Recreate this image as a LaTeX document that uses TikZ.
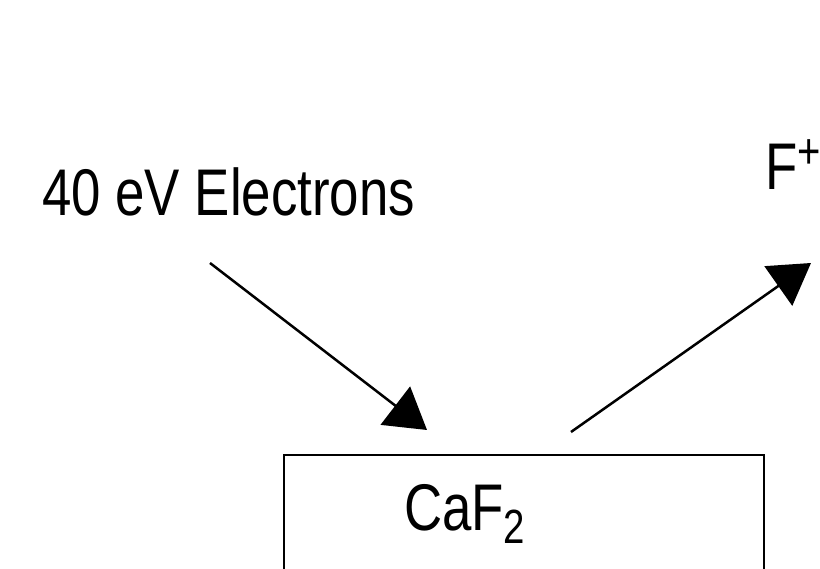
\documentclass[tikz,border=0pt]{standalone}
\usepackage{fontspec}
\newfontfamily\labelfont[FakeStretch=0.8]{Liberation Sans}
\usetikzlibrary{arrows.meta}

\newcommand{\supsmall}[1]{\raisebox{21pt}{\fontsize{50}{52}\selectfont #1}}
\newcommand{\subsmall}[1]{\raisebox{-13pt}{\fontsize{48}{50}\selectfont #1}}

\begin{document}
\begin{tikzpicture}[x=1pt,y=-1pt,inner sep=0pt,
  lbl/.style={anchor=base west,font=\labelfont\fontsize{66}{70}\selectfont},
  beam/.style={line width=2.5pt,-{Triangle[length=40pt,width=48pt]}}]
\useasboundingbox (0,0) rectangle (820,569);
\clip (0,0) rectangle (820,569);
\node[lbl] (elec) at (42,216) {40 eV Electrons};
\node[lbl] (fion) at (765,190) {F\supsmall{+}};
\node[draw,line width=2pt,minimum width=480pt,minimum height=140pt,anchor=north west] (sample) at (283,454) {};
\node[lbl] (caf) at (404,530) {CaF\subsmall{2}};
\coordinate (a1) at (210,263);
\coordinate (a2) at (427,430);
\coordinate (b1) at (571,432);
\coordinate (b2) at (811,263);
\draw[beam] (a1) -- (a2);
\draw[beam] (b1) -- (b2);
\end{tikzpicture}
\end{document}
